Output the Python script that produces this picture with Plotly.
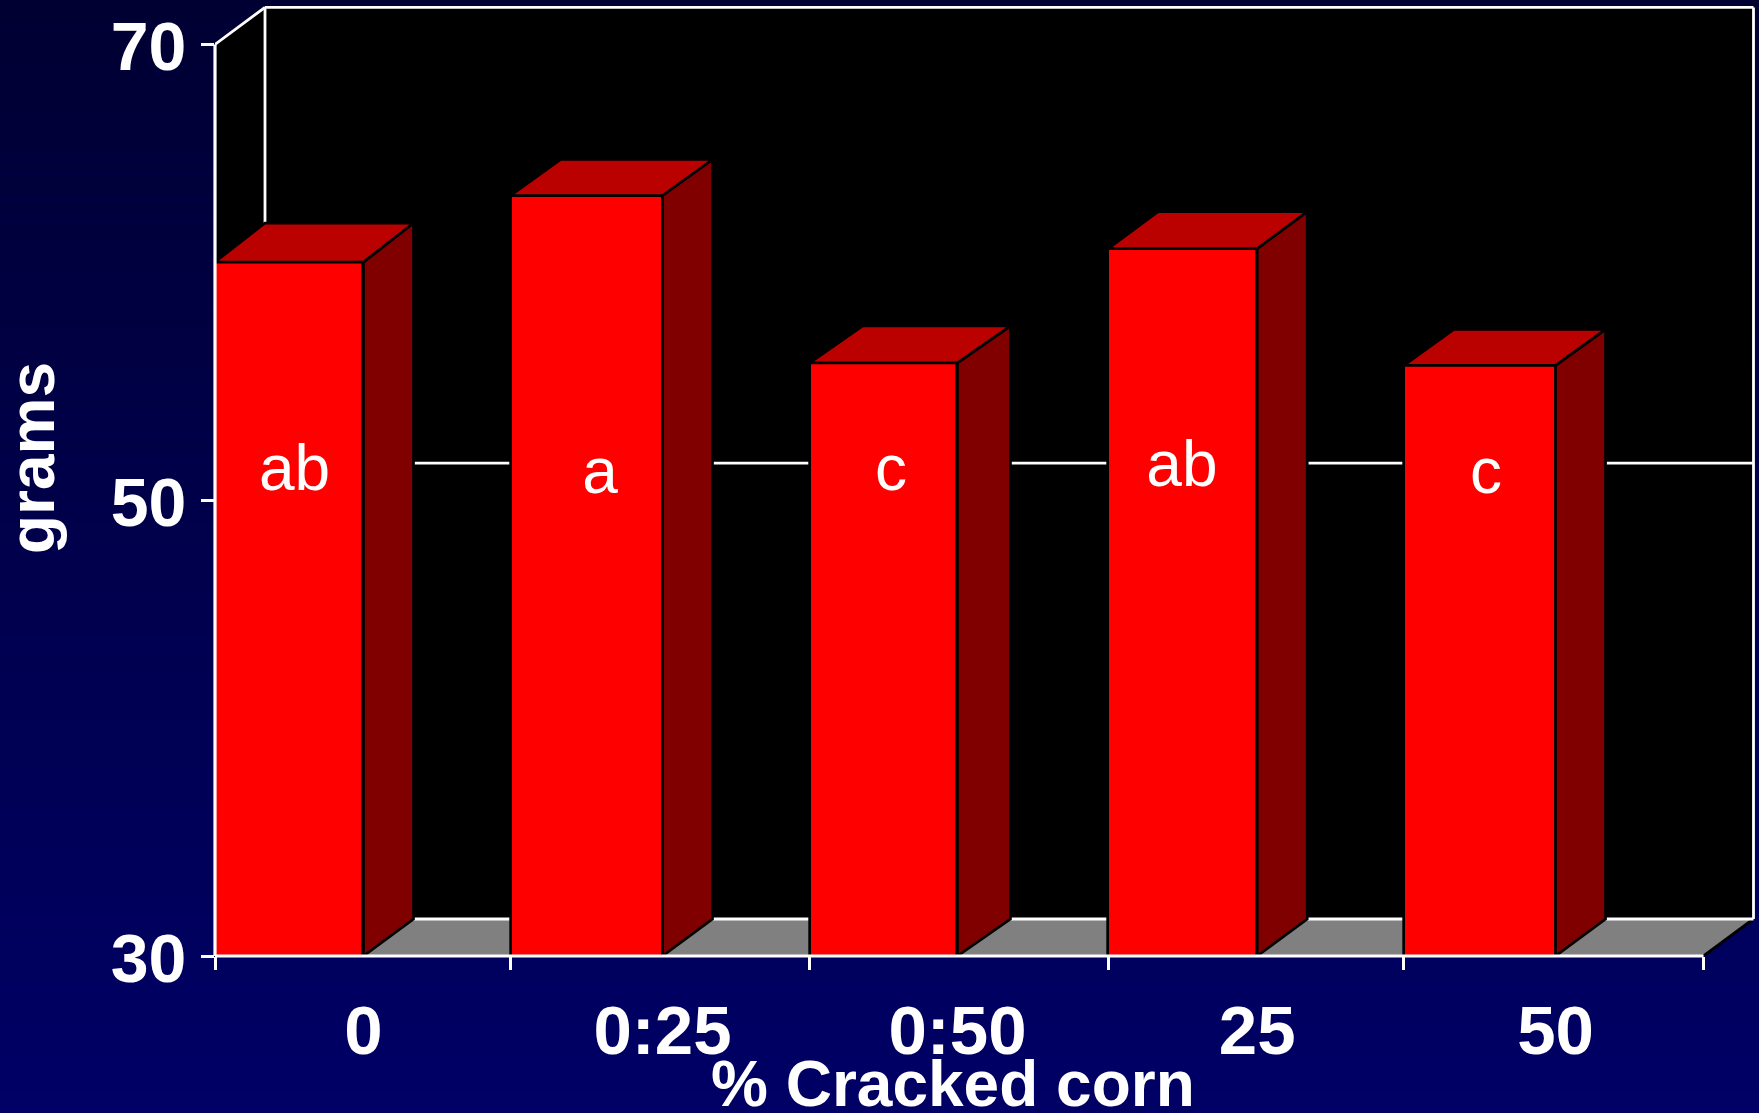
import plotly.graph_objects as go

# ---- data -----------------------------------------------------------------
categories = ["0", "0:25", "0:50", "25", "50"]
grams = [60.45, 63.37, 56.03, 61.04, 55.92]
letters = ["ab", "a", "c", "ab", "c"]
y_ticks = [30, 50, 70]

# ---- axis layout in axis units --------------------------------------------
slot_edges = [0, 0.9933, 1.9977, 3.0, 3.9933, 5.0]     # x tick marks
bar_rights = [0.4988, 1.5032, 2.494, 3.5009, 4.503]    # label centres / bar right edges
letter_x = [0.267, 1.293, 2.271, 3.248, 4.269]
letter_y = [51.14, 51.02, 51.17, 51.33, 51.02]

PX_X, PX_Y = 297.7, 22.79         # pixels per axis unit
DX, DY = 50 / PX_X, 37 / PX_Y     # depth of the 3-D projection (frame)
bar_depth_x = [50 / PX_X, 50 / PX_X, 53 / PX_X, 50 / PX_X, 50 / PX_X]
bar_depth_y = [39 / PX_Y, 36 / PX_Y, 37 / PX_Y, 37 / PX_Y, 36 / PX_Y]
Y0, Y1 = 30, 70
X1 = 5.0

WIDTH, HEIGHT = 1759, 1113
M_L, M_R, M_T, M_B = 215, 2, 5, 157
X_MAX = (WIDTH - M_R - M_L) / PX_X
Y_MAX = Y0 + (HEIGHT - M_B - M_T) / PX_Y

FONT = "Liberation Sans, Arial, sans-serif"
WHITE = "#ffffff"
LW = 2.8

shapes = []

# vertical page gradient
N = 51
for i in range(N):
    blue = 0x33 + i
    t0 = i / N
    t1 = (i + 1) / N
    shapes.append(dict(
        type="rect", xref="paper", yref="paper", layer="below",
        x0=-M_L / (WIDTH - M_L - M_R), x1=1 + M_R / (WIDTH - M_L - M_R),
        y1=(1 + M_T / (HEIGHT - M_T - M_B)) - t0 * (HEIGHT / (HEIGHT - M_T - M_B)),
        y0=(1 + M_T / (HEIGHT - M_T - M_B)) - t1 * (HEIGHT / (HEIGHT - M_T - M_B)),
        fillcolor=f"#0000{blue:02x}", line=dict(width=0),
    ))


def path(points):
    return "M" + "L".join(f"{x},{y}" for x, y in points) + "Z"


def seg(x0, y0, x1, y1, color=WHITE, layer="below", width=LW, xref="x", yref="y"):
    shapes.append(dict(type="line", xref=xref, yref=yref, layer=layer,
                       x0=x0, y0=y0, x1=x1, y1=y1,
                       line=dict(color=color, width=width)))


# black walls
shapes.append(dict(type="path", xref="x", yref="y", layer="below", fillcolor="#000000",
                   line=dict(width=0),
                   path=path([(0, Y0), (0, Y1), (DX, Y1 + DY), (X1 + DX, Y1 + DY),
                              (X1 + DX, Y0 + DY), (X1, Y0)])))
# grey floor
shapes.append(dict(type="path", xref="x", yref="y", layer="below", fillcolor="#808080",
                   line=dict(width=0),
                   path=path([(0, Y0), (DX, Y0 + DY), (X1 + DX, Y0 + DY), (X1, Y0)])))
# floor front-right edge
seg(X1, Y0, X1 + DX, Y0 + DY, color="#000000")
# frame of the back wall
seg(DX, Y1 + DY, X1 + DX, Y1 + DY)
seg(DX, Y0 + DY, X1 + DX, Y0 + DY)
seg(DX, Y0 + DY, DX, Y1 + DY)
seg(X1 + DX, Y0 + DY, X1 + DX, Y1 + DY)
seg(0, Y1, DX, Y1 + DY)
# gridline on the back wall
seg(DX, 50 + DY, X1 + DX, 50 + DY)
# front axis lines, on top of the bars
seg(0, Y0, 0, Y1, layer="above", xref="paper", width=3.2)
seg(0, 0, X1, 0, layer="above", yref="paper", width=3.0)

fig = go.Figure()

lefts = slot_edges[:5]
fig.add_trace(go.Bar(
    x=lefts, y=grams, width=[r - l for l, r in zip(lefts, bar_rights)], offset=0,
    marker=dict(color="#ff0000", line=dict(color="#000000", width=2.7)),
    showlegend=False, hoverinfo="skip",
))

for l, r, v, dx, dy in zip(lefts, bar_rights, grams, bar_depth_x, bar_depth_y):
    # side face
    fig.add_trace(go.Scatter(
        x=[r, r + dx, r + dx, r, r], y=[Y0, Y0 + DY, v + dy, v, Y0],
        mode="lines", fill="toself", fillcolor="#800000",
        line=dict(color="#000000", width=2.7), showlegend=False, hoverinfo="skip"))
    # top face
    fig.add_trace(go.Scatter(
        x=[l, l + dx, r + dx, r, l], y=[v, v + dy, v + dy, v, v],
        mode="lines", fill="toself", fillcolor="#bb0000",
        line=dict(color="#000000", width=2.7), showlegend=False, hoverinfo="skip"))

fig.add_trace(go.Scatter(
    x=letter_x, y=letter_y, mode="text", text=letters, textposition="middle center",
    textfont=dict(family=FONT, size=64, color=WHITE),
    showlegend=False, hoverinfo="skip"))

fig.update_layout(
    width=WIDTH, height=HEIGHT, autosize=False,
    margin=dict(l=M_L, r=M_R, t=M_T, b=M_B, pad=0),
    paper_bgcolor="#000066", plot_bgcolor="rgba(0,0,0,0)",
    shapes=shapes, bargap=0, showlegend=False,
    xaxis=dict(
        range=[0, X_MAX], showgrid=False, zeroline=False, showline=False,
        tickmode="array", tickvals=bar_rights, ticktext=categories, ticks="",
        ticklabelstandoff=28,
        tickfont=dict(family=FONT, size=69, color=WHITE, weight="bold"),
        minor=dict(tickmode="array", tickvals=slot_edges, ticks="outside", ticklen=13,
                   tickwidth=LW, tickcolor=WHITE, showgrid=False),
    ),
    yaxis=dict(
        range=[Y0, Y_MAX], showgrid=False, zeroline=False, showline=False,
        tickmode="array", tickvals=y_ticks, ticktext=[str(t) for t in y_ticks],
        ticks="outside", ticklen=13, tickwidth=LW, tickcolor=WHITE,
        ticklabelstandoff=1, ticklabelshift=2,
        tickfont=dict(family=FONT, size=68, color=WHITE, weight="bold"),
    ),
    annotations=[
        dict(text="grams", xref="paper", yref="paper", showarrow=False, textangle=-90,
             x=-(215 - 32) / (WIDTH - M_L - M_R), y=(956 - 458) / (HEIGHT - M_T - M_B),
             xanchor="center", yanchor="middle",
             font=dict(family=FONT, size=64, color=WHITE, weight="bold")),
        dict(text="% Cracked corn", xref="paper", yref="paper", showarrow=False,
             x=(952.5 - 215) / (WIDTH - M_L - M_R), y=-(1084 - 956) / (HEIGHT - M_T - M_B),
             xanchor="center", yanchor="middle",
             font=dict(family=FONT, size=64, color=WHITE, weight="bold")),
    ],
)

fig.write_html("out.html", config={"displayModeBar": False},
               post_script="document.body.style.margin='0';")
